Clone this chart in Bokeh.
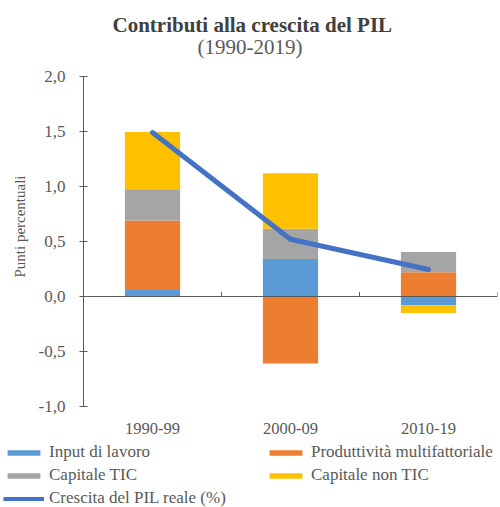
from bokeh.plotting import figure
from bokeh.models import (ColumnDataSource, FactorRange, Range1d, FixedTicker,
                          CustomJSTickFormatter, Span, Legend, LegendItem, Title)
from bokeh.embed import file_html
from bokeh.resources import INLINE

# ---- data ----
categories = ["1990-99", "2000-09", "2010-19"]
labor = [0.06, 0.34, -0.08]          # Input di lavoro
mfp = [0.63, -0.61, 0.22]            # Produttività multifattoriale
ict = [0.285, 0.275, 0.185]          # Capitale TIC
non_ict = [0.52, 0.505, -0.07]       # Capitale non TIC
gdp = [1.49, 0.52, 0.245]            # Crescita del PIL reale (%)
y_ticks = [-1.0, -0.5, 0.0, 0.5, 1.0, 1.5, 2.0]

series_names = ["Input di lavoro", "Produttività multifattoriale",
                "Capitale TIC", "Capitale non TIC"]
line_name = "Crescita del PIL reale (%)"
series_vals = [labor, mfp, ict, non_ict]
series_colors = ["#5B9BD5", "#ED7D31", "#A5A5A5", "#FFC000"]
line_color = "#4472C4"

FONT = "Liberation Serif"
TXT = "#595959"

p = figure(width=500, height=436, x_range=FactorRange(*categories),
           y_range=Range1d(-1, 2), output_backend="svg", toolbar_location=None,
           min_border_left=83, min_border_right=3, min_border_top=76,
           min_border_bottom=30, title=None)
p.outline_line_color = None
p.xgrid.visible = False
p.ygrid.visible = False

# stacked bars, positives up from zero, negatives down from zero
pos_base = [0.0] * len(categories)
neg_base = [0.0] * len(categories)
sources = []
for name, vals, col in zip(series_names, series_vals, series_colors):
    bottoms, tops = [], []
    for i, v in enumerate(vals):
        if v >= 0:
            bottoms.append(pos_base[i]); tops.append(pos_base[i] + v)
            pos_base[i] += v
        else:
            bottoms.append(neg_base[i]); tops.append(neg_base[i] + v)
            neg_base[i] += v
    src = ColumnDataSource(dict(x=categories, bottom=bottoms, top=tops))
    sources.append(src)
    p.vbar(x="x", bottom="bottom", top="top", width=0.4, source=src,
           fill_color=col, line_color=None)

line_src = ColumnDataSource(dict(x=categories, y=gdp))
p.line(x="x", y="y", source=line_src, line_width=5, line_color=line_color,
       line_cap="round", line_join="round")

# zero line with category boundary ticks
p.add_layout(Span(location=0, dimension="width", line_color=TXT, line_width=1))
bounds = list(range(len(categories) + 1))
p.segment(x0=bounds, y0=[0] * len(bounds), x1=bounds, y1=[0.04] * len(bounds),
          line_color=TXT, line_width=1)

# axes
ya = p.yaxis[0]
ya.ticker = FixedTicker(ticks=y_ticks)
ya.formatter = CustomJSTickFormatter(code="return tick.toFixed(1).replace('.', ',');")
ya.minor_tick_line_color = None
ya.major_tick_in = 4
ya.major_tick_out = 4
ya.axis_line_color = TXT
ya.major_tick_line_color = TXT
ya.major_label_text_font = FONT
ya.major_label_text_font_size = "17px"
ya.major_label_text_color = TXT
ya.major_label_standoff = 14
ya.axis_label = "\u00a0" * 8 + "Punti percentuali"
ya.axis_label_text_font = FONT
ya.axis_label_text_font_size = "15px"
ya.axis_label_text_font_style = "normal"
ya.axis_label_text_color = TXT
ya.axis_label_standoff = 8

xa = p.xaxis[0]
xa.axis_line_color = None
xa.major_tick_line_color = None
xa.minor_tick_line_color = None
xa.major_label_text_font = FONT
xa.major_label_text_font_size = "16.5px"
xa.major_label_text_color = TXT
xa.major_label_standoff = 10

# titles
sub = Title(text="(1990-2019)", align="left", offset=114, standoff=35,
            text_font=FONT, text_font_size="21px", text_font_style="normal",
            text_color=TXT)
main = Title(text="Contributi  alla crescita del PIL", align="left", offset=29,
             standoff=-43, text_font=FONT, text_font_size="21px",
             text_font_style="bold", text_color="#404040")
p.add_layout(sub, "above")
p.add_layout(main, "above")

# legend (separate strip below the chart, same series, hidden glyphs)
lg = figure(width=500, height=71, x_range=FactorRange(*categories),
            y_range=Range1d(-1, 2), output_backend="svg", toolbar_location=None,
            min_border=0, x_axis_location=None, y_axis_location=None)
lg.outline_line_color = None
lg.xgrid.visible = False
lg.ygrid.visible = False
items = []
for name, src, col in zip(series_names, sources, series_colors):
    r = lg.vbar(x="x", bottom="bottom", top="top", width=0.4, source=src,
                fill_color=col, line_color=None, visible=False)
    items.append(LegendItem(label=name, renderers=[r]))
rl = lg.line(x="x", y="y", source=line_src, line_width=4, line_color=line_color,
             visible=False)
items.append(LegendItem(label=line_name, renderers=[rl]))
legend = Legend(items=items, location=(3, -1), orientation="horizontal", ncols=2,
                glyph_width=41, glyph_height=7, label_standoff=5, label_width=213,
                label_height=19, spacing=3, padding=0, margin=0,
                border_line_color=None, background_fill_alpha=0,
                inactive_fill_alpha=0,
                label_text_font=FONT, label_text_font_size="17px",
                label_text_color=TXT)
lg.add_layout(legend)

open("out.html", "w").write(file_html([p, lg], INLINE))
